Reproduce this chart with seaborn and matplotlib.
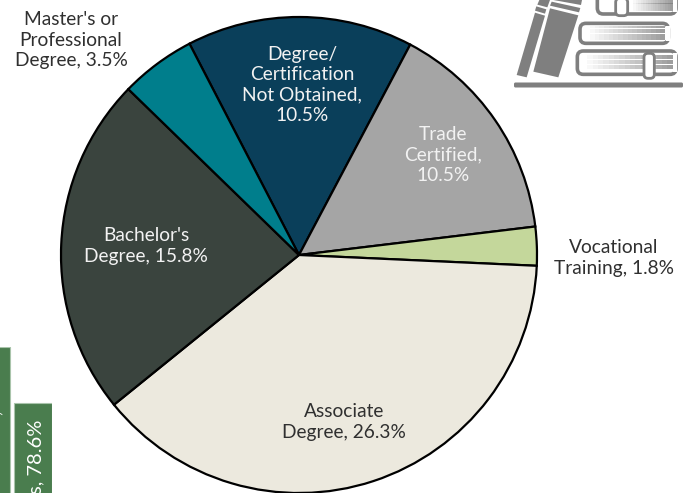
import matplotlib
matplotlib.use("Agg")
import matplotlib.pyplot as plt
from matplotlib.patches import Polygon, FancyBboxPatch, Rectangle
import seaborn as sns
import pandas as pd

labels = ["Degree/\nCertification\nNot Obtained,\n10.5%", "Trade\nCertified,\n10.5%",
          "Vocational\nTraining, 1.8%", "Associate\nDegree, 26.3%",
          "Bachelor's\nDegree, 15.8%", "Master's or\nProfessional\nDegree, 3.5%"]
shares = [10.5, 10.5, 1.8, 26.3, 15.8, 3.5]
slice_colors = ["#0A3F5A", "#A5A5A5", "#C4D79B", "#ECE9DE", "#3A443E", "#007E8C"]
text_colors = ["#F2F2F2", "#F2F2F2", "#303030", "#303030", "#F2F2F2", "#303030"]
label_px = [(302, 85), (443, 155), (614, 258), (344, 422), (146, 246), (71, 40)]

bar_cats = ["A", "B"]
bar_vals = [89.3, 78.6]
bar_texts = ["Associate, 89.3%", "s, 78.6%"]

W, H = 688, 493
sns.set_theme(style="white")
plt.rcParams["font.family"] = ["Lato", "DejaVu Sans"]
fig = plt.figure(figsize=(W / 100, H / 100), dpi=100, facecolor="white")

ov = fig.add_axes([0, 0, 1, 1], zorder=5)
ov.set_xlim(0, W); ov.set_ylim(H, 0); ov.axis("off"); ov.patch.set_alpha(0)

cx, cy, r = 299, 255, 238
pax = fig.add_axes([(cx - r) / W, (H - cy - r) / H, 2 * r / W, 2 * r / H], zorder=2)
wedges, _ = pax.pie(shares, colors=slice_colors, startangle=117.4, counterclock=False,
                    wedgeprops=dict(edgecolor="black", linewidth=1.6))
pax.set_xlim(-1, 1); pax.set_ylim(-1, 1)
for w in wedges:
    w.set_clip_on(False)

for lab, c, (x, y) in zip(labels, text_colors, label_px):
    ov.text(x, y, lab, ha="center", va="center", color=c, fontsize=13.8, linespacing=1.22)

bax = fig.add_axes([0, 0, 52 / W, 146 / H], zorder=1)
df = pd.DataFrame({"cat": bar_cats, "val": bar_vals})
sns.barplot(df, x="cat", y="val", color="#4A7D4E", saturation=1, width=0.905, ax=bax,
            edgecolor="#A9C4AB", linewidth=0.8)
bax.set_xlim(9 / 42, 1 + 19 / 42)
bax.set_ylim(61.2, 89.3)
bax.axis("off")
bax.text(1.07, 75.3, bar_texts[1], rotation=90, ha="center", va="top", color="white",
         fontsize=14.5, clip_on=True)
bax.text(0.1, 88.8, bar_texts[0], rotation=90, ha="center", va="top", color="white",
         fontsize=14.5, clip_on=True)

G = "#7F7F7F"
def poly(p, z=6, c=G):
    ov.add_patch(Polygon(p, closed=True, fc=c, ec="none", zorder=z))
def z(x, y):
    return (500 + x / 3, y / 3)
ov.add_patch(FancyBboxPatch((514, 82.5), 169, 5, boxstyle="round,pad=0,rounding_size=1.5", fc=G, ec="none", zorder=6))
poly([z(50, 225), z(80, 232), z(135, 47), z(105, 38)])
poly([z(105, 32), z(135, 41), z(139, 28), z(109, 19)])
poly([z(112, 14), z(142, 22), z(150, 0), z(118, 0)])
poly([z(100, 215), z(175, 232), z(235, 46), z(150, 25)])
poly([z(150, 17), z(237, 37), z(241, 24), z(155, 5)])
poly([z(160, 0), z(243, 15), z(246, 0)])

def book(x0, x1, y0, y1, pages):
    ov.add_patch(FancyBboxPatch((500 + x0 / 3, y0 / 3), (x1 - x0) / 3, (y1 - y0) / 3,
                                boxstyle="round,pad=0,rounding_size=6", fc="white", ec=G, lw=2.6, zorder=6))
    ov.add_patch(Rectangle((500 + (x1 - 8) / 3, (y0 + 7) / 3), 4, (y1 - y0 - 14) / 3, fc="white", ec="none", zorder=6.1))
    n, m = 6, 16
    px0, px1, py0, py1 = pages
    for i in range(n):
        y = (py0 + (py1 - py0) * i / (n - 1)) / 3
        for j in range(m):
            a = (j + 1) / m
            xa = 500 + (px0 + (px1 - px0) * j / m) / 3
            xb = 500 + (px0 + (px1 - px0) * (j + 1) / m) / 3
            ov.plot([xa, xb], [y, y], color=G, alpha=a * 0.9, lw=1.2, solid_capstyle="butt", zorder=6.2)

book(232, 528, 153, 223, (262, 518, 168, 205))
book(240, 505, 70, 130, (270, 495, 82, 118))
book(292, 528, -30, 42, (400, 518, 2, 30))
for bx0, bx1, y0, y1 in [(432, 463, 160, 235), (347, 383, -5, 47)]:
    ov.add_patch(FancyBboxPatch((500 + bx0 / 3, y0 / 3), (bx1 - bx0) / 3, (y1 - y0) / 3,
                                boxstyle="round,pad=0,rounding_size=4", fc="white", ec=G, lw=2, zorder=6.4))
fig.savefig("out.png", dpi=100)
